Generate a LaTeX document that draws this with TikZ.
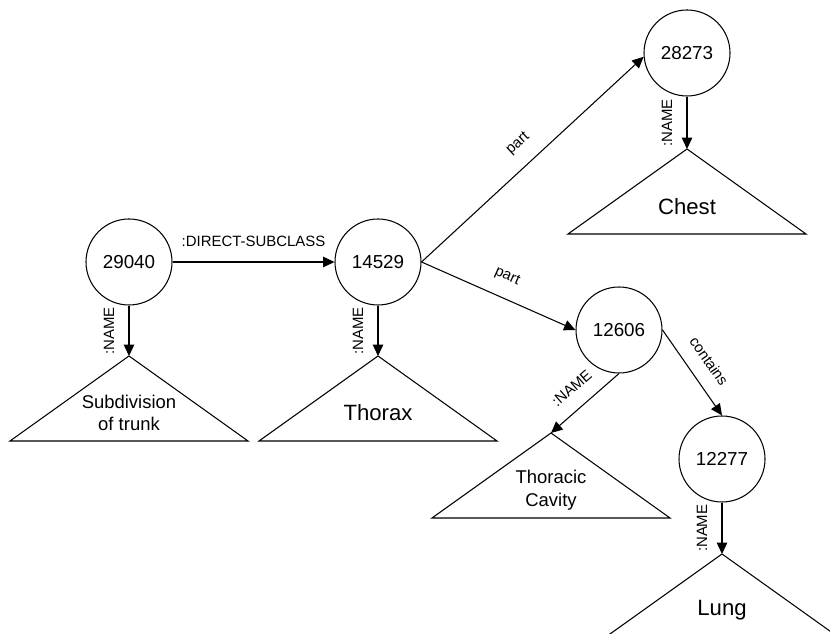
\documentclass[tikz,border=0pt]{standalone}
\usepackage{fontspec}
\setmainfont{Liberation Sans}
\usetikzlibrary{arrows.meta, positioning}

\begin{document}
\begin{tikzpicture}[
    entity/.style={circle, draw, line width=0.6pt, minimum size=1.72cm, inner sep=0pt, font=\fontsize{10.7}{12.8}\selectfont},
    rel/.style={font=\fontsize{8.5}{10}\selectfont, inner sep=1.5pt, outer sep=7pt},
    link/.style={line width=0.6pt, -{Triangle[length=6.5pt, width=6pt]}},
    termbox/.style={line width=0.6pt},
    smalltxt/.style={align=center, font=\fontsize{10.5}{12.8}\selectfont},
    bigtxt/.style={font=\fontsize{12.6}{15}\selectfont}
]
    \useasboundingbox (0,0) rectangle (16.6,12.68);

    \node[entity] (n29040) at (2.58,7.44) {29040};
    \node[entity] (n14529) at (7.56,7.44) {14529};
    \node[entity] (n28273) at (13.74,11.62) {28273};
    \node[entity] (n12606) at (12.38,6.08) {12606};
    \node[entity] (n12277) at (14.44,3.50) {12277};

    % name triangles
    \coordinate (t29040) at (2.58,5.56);
    \coordinate (t14529) at (7.56,5.56);
    \coordinate (t28273) at (13.74,9.70);
    \coordinate (t12606) at (11.02,4.02);
    \coordinate (t12277) at (14.44,1.60);
    \foreach \t in {t29040,t14529,t28273,t12606,t12277}
        \draw[termbox] (\t) -- ++(-2.38,-1.7) -- ++(4.76,0) -- cycle;

    \node[smalltxt] (s29040) at (2.58,4.42) {Subdivision\\of trunk};
    \node[bigtxt] (s14529) at (7.56,4.42) {Thorax};
    \node[bigtxt] (s28273) at (13.74,8.54) {Chest};
    \node[smalltxt] (s12606) at (11.02,2.88) {Thoracic\\Cavity};
    \node[bigtxt] (s12277) at (14.44,0.48) {Lung};

    \draw[link] (n29040) -- node[rel, above] {:DIRECT-SUBCLASS} (n14529);
    \draw[link] (n14529.east) -- node[rel, sloped, above] {part} (n28273.185);
    \draw[link] (n14529.east) -- node[rel, sloped, above] {part} (n12606.west);
    \draw[link] (n12606.east) -- node[rel, sloped, above] {contains} (n12277.north);

    % :NAME links
    \draw[link] (n29040) -- node[rel, rotate=90, above] {:NAME} (t29040);
    \draw[link] (n14529) -- node[rel, rotate=90, above] {:NAME} (t14529);
    \draw[link] (n28273) -- node[rel, rotate=90, above] {:NAME} (t28273);
    \draw[link] (n12606.south) -- node[rel, sloped, above] {:NAME} (t12606);
    \draw[link] (n12277) -- node[rel, rotate=90, above] {:NAME} (t12277);
\end{tikzpicture}
\end{document}
